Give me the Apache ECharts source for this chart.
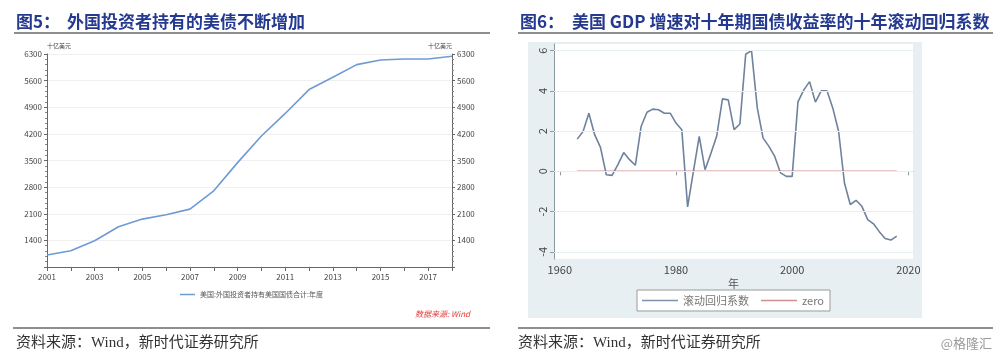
<!DOCTYPE html>
<html><head><meta charset="utf-8">
<script src="https://cdn.jsdelivr.net/npm/echarts@6/dist/echarts.min.js"></script>
<style>html,body{margin:0;padding:0;background:#fff}#c{width:1000px;height:359px}</style>
</head><body><div id="c"></div>
<script>
// ---- Figure 5 data ----
const years1 = ['2001','2002','2003','2004','2005','2006','2007','2008','2009','2010','2011','2012','2013','2014','2015','2016','2017','2018'];
const holdings = [1016,1129,1391,1758,1959,2073,2221,2702,3444,4143,4737,5365,5689,6021,6143,6169,6169,6239];
const name1 = '美国:外国投资者持有美国国债合计:年度';
const unit1 = '十亿美元';

// ---- Figure 6 data ----
const years2 = [1963,1964,1965,1966,1967,1968,1969,1970,1971,1972,1973,1974,1975,1976,1977,1978,1979,
  1980,1981,1982,1983,1984,1985,1986,1987,1988,1989,1990,1991,1992,1993,1994,1995,1996,1997,1998,1999,
  2000,2001,2002,2003,2004,2005,2006,2007,2008,2009,2010,2011,2012,2013,2014,2015,2016,2017,2018];
const coef = [1.60,1.98,2.89,1.82,1.19,-0.17,-0.20,0.33,0.93,0.58,0.30,2.23,2.94,3.09,3.06,2.89,2.89,
  2.40,2.07,-1.77,0.00,1.74,0.08,0.88,1.74,3.60,3.55,2.07,2.35,5.82,6.00,3.14,1.65,1.24,0.74,-0.08,-0.25,
  -0.25,3.45,4.05,4.46,3.44,4.00,4.00,3.14,1.98,-0.58,-1.65,-1.44,-1.74,-2.40,-2.61,-3.00,-3.34,-3.42,-3.22];
const zeroLine = [0,0,0,0,0,0,0,0,0,0,0,0,0,0,0,0,0,0,0,0,0,0,0,0,0,0,0,0,0,0,0,0,0,0,0,0,0,0,0,0,0,0,0,0,0,0,0,0,0,0,0,0,0,0,0,0];
const yTicks2 = [-4,-2,0,2,4,6];
const xTicks2 = [1960,1980,2000,2020];
const name2a = '滚动回归系数';
const name2b = 'zero';

const chart = echarts.init(document.getElementById('c'));
const F = 'Noto Sans CJK SC, Noto Sans, sans-serif';
const titleColor = '#24398f';
const plain = v => String(v);

const option = {
  animation: false,
  backgroundColor: '#fff',
  textStyle: {fontFamily: F},
  graphic: [
    {type:'rect', shape:{x:528,y:42,width:394,height:276}, style:{fill:'#e8eff3'}, z:-10},
    {type:'text', style:{x:16,y:22,text:'图5：',font:'bold 17px '+F,fill:titleColor,textVerticalAlign:'middle'}},
    {type:'text', style:{x:67,y:22,text:'外国投资者持有的美债不断增加',font:'bold 17px '+F,fill:titleColor,textVerticalAlign:'middle'}},
    {type:'text', style:{x:520,y:22,text:'图6：',font:'bold 17px '+F,fill:titleColor,textVerticalAlign:'middle'}},
    {type:'text', style:{x:572,y:22,text:'美国 GDP 增速对十年期国债收益率的十年滚动回归系数',font:'bold 17px '+F,fill:titleColor,textVerticalAlign:'middle'}},
    {type:'line', shape:{x1:14,y1:33,x2:490,y2:33}, style:{stroke:'#8e8e8e',lineWidth:2}},
    {type:'line', shape:{x1:518,y1:33,x2:993,y2:33}, style:{stroke:'#8e8e8e',lineWidth:2}},
    {type:'line', shape:{x1:13,y1:328,x2:490,y2:328}, style:{stroke:'#8e8e8e',lineWidth:2}},
    {type:'line', shape:{x1:518,y1:328,x2:993,y2:328}, style:{stroke:'#8e8e8e',lineWidth:2}},
    {type:'text', style:{x:16,y:343,text:'资料来源：Wind，新时代证券研究所',font:'15px Liberation Serif, '+F,fill:'#333',textVerticalAlign:'middle'}},
    {type:'text', style:{x:518,y:343,text:'资料来源：Wind，新时代证券研究所',font:'15px Liberation Serif, '+F,fill:'#333',textVerticalAlign:'middle'}},
    {type:'text', style:{x:992,y:343,text:'@格隆汇',font:'13px '+F,fill:'#9a9a9a',textAlign:'right',textVerticalAlign:'middle'}},
    {type:'text', style:{x:470,y:314,text:'数据来源: Wind',font:'italic 8px '+F,fill:'#e23a3a',textAlign:'right',textVerticalAlign:'middle'}}
  ],
  grid: [
    {left:47, top:54, width:405, height:213, containLabel:false},
    {left:554, top:44, width:359, height:215, show:true, backgroundColor:'#fff', borderWidth:0}
  ],
  legend: [
    {data:[name1], left:180, top:291, icon:'rect', itemWidth:15, itemHeight:1.5, itemGap:4,
     textStyle:{fontSize:7, color:'#555'}, padding:0},
    {data:[name2a, name2b], left:637, top:290, icon:'rect', itemWidth:36, itemHeight:1.5, itemGap:12,
     padding:[5,6,5,5], borderColor:'#9a9a9a', borderWidth:1, backgroundColor:'#fff',
     textStyle:{fontSize:11, color:'#777'}}
  ],
  xAxis: [
    {gridIndex:0, type:'category', data:years1, boundaryGap:false,
     axisLine:{lineStyle:{color:'#666'}},
     axisTick:{interval:0, length:4, lineStyle:{color:'#666'}},
     axisLabel:{interval:1, fontSize:8, color:'#444', margin:6},
     splitLine:{show:false}},
    {gridIndex:1, type:'value', min:1959, max:2020.8,
     axisLine:{lineStyle:{color:'#8a9aa5'}},
     axisTick:{customValues:xTicks2, length:4, lineStyle:{color:'#8a9aa5'}},
     axisLabel:{customValues:xTicks2, fontSize:11, color:'#444', margin:5, formatter:plain},
     splitLine:{show:false},
     name:'年', nameLocation:'middle', nameGap:19, nameMoveOverlap:false,
     nameTextStyle:{fontSize:11, color:'#555'}}
  ],
  yAxis: [
    {gridIndex:0, type:'value', min:700, max:6300, interval:700, position:'left',
     name:unit1, nameLocation:'end', nameGap:5, nameTextStyle:{fontSize:6, color:'#444', align:'left'},
     axisLine:{show:true, lineStyle:{color:'#666'}},
     axisTick:{show:true, length:3, lineStyle:{color:'#666'}},
     minorTick:{show:true, splitNumber:5, length:2, lineStyle:{color:'#888'}},
     axisLabel:{fontSize:8, color:'#444', margin:5, showMinLabel:false, formatter:plain},
     splitLine:{show:true, lineStyle:{color:'#f0f0f0'}}},
    {gridIndex:0, type:'value', min:700, max:6300, interval:700, position:'right',
     name:unit1, nameLocation:'end', nameGap:5, nameTextStyle:{fontSize:6, color:'#444', align:'right'},
     axisLine:{show:true, lineStyle:{color:'#666'}},
     axisTick:{show:true, length:3, lineStyle:{color:'#666'}},
     minorTick:{show:true, splitNumber:5, length:2, lineStyle:{color:'#888'}},
     axisLabel:{fontSize:8, color:'#444', margin:5, showMinLabel:false, formatter:plain},
     splitLine:{show:false}},
    {gridIndex:1, type:'value', min:-4.36, max:6.33,
     axisLine:{show:true, lineStyle:{color:'#8a9aa5'}},
     axisTick:{show:true, customValues:yTicks2, length:4, lineStyle:{color:'#8a9aa5'}},
     axisLabel:{customValues:yTicks2, rotate:90, fontSize:11, color:'#444', margin:6, formatter:plain},
     splitLine:{show:false}}
  ],
  series: [
    {name:name1, type:'line', xAxisIndex:0, yAxisIndex:0, data:holdings, showSymbol:false,
     lineStyle:{color:'#6e9bd3', width:1.6}, itemStyle:{color:'#6e9bd3'}},
    {name:'grid6', type:'line', xAxisIndex:1, yAxisIndex:2, data:[], z:1, silent:true,
     markLine:{silent:true, symbol:'none', label:{show:false},
       lineStyle:{color:'#e6eef1', width:1, type:'solid'},
       data: yTicks2.map(v => ({yAxis:v}))}},
    {name:name2b, type:'line', xAxisIndex:1, yAxisIndex:2, z:3,
     data: years2.map((y,i) => [y, zeroLine[i]]), showSymbol:false,
     lineStyle:{color:'#cf8f8f', width:1.6}, itemStyle:{color:'#cf8f8f'}},
    {name:name2a, type:'line', xAxisIndex:1, yAxisIndex:2, z:4,
     data: years2.map((y,i) => [y, coef[i]]), showSymbol:false,
     lineStyle:{color:'#6f829c', width:1.6}, itemStyle:{color:'#7f93ad'}}
  ]
};
chart.setOption(option);
</script>
</body></html>
